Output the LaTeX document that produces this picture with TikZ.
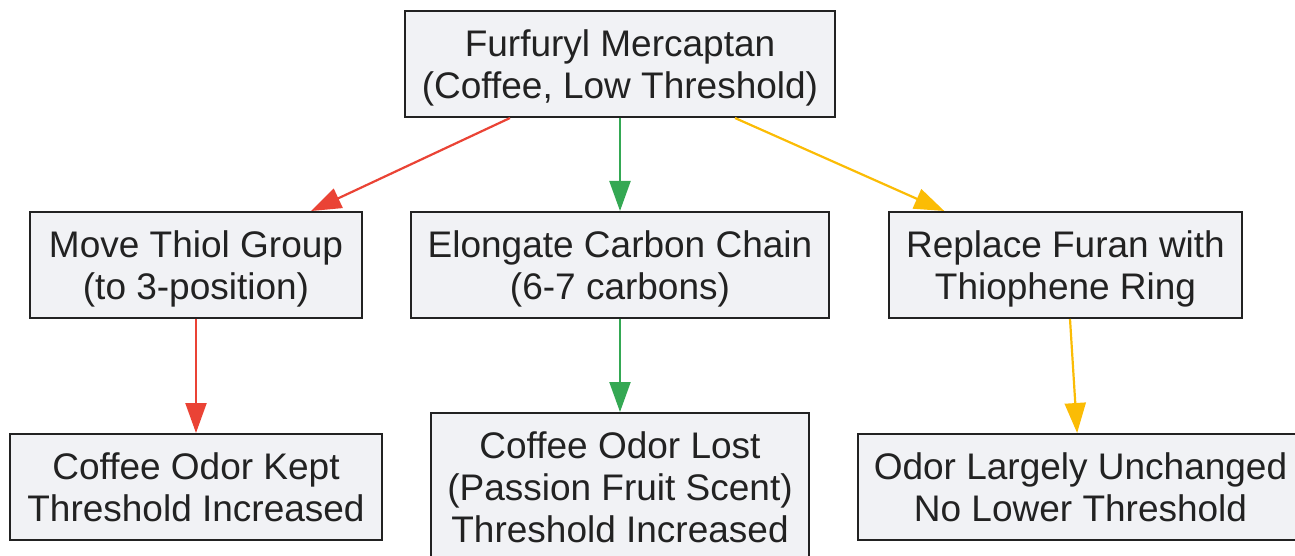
\documentclass[tikz,border=0pt]{standalone}
\usepackage{fontspec}
\setmainfont{Liberation Sans}
\usetikzlibrary{arrows.meta}

\definecolor{boxfill}{HTML}{F1F2F5}
\definecolor{boxline}{HTML}{222222}
\definecolor{redarr}{HTML}{EA4335}
\definecolor{greenarr}{HTML}{34A853}
\definecolor{yellowarr}{HTML}{FBBC05}

\tikzset{
  box/.style={draw=boxline, fill=boxfill, line width=2pt, inner sep=0pt,
    align=center, text=boxline, text depth=0pt, font=\fontsize{37}{42}\selectfont},
  link/.style={line width=2.2pt, -{Triangle[length=30pt,width=21pt]}}
}

\begin{document}
\begin{tikzpicture}[x=1pt,y=-1pt]
\useasboundingbox (0,0) rectangle (1295,556);
% nodes
\node[box, minimum width=430pt, minimum height=106pt] (furf) at (620,64) {Furfuryl Mercaptan\\(Coffee, Low Threshold)};
\node[box, minimum width=332pt, minimum height=106pt] (move) at (196,265) {Move Thiol Group\\(to 3-position)};
\node[box, minimum width=418pt, minimum height=106pt] (elong) at (620,265) {Elongate Carbon Chain\\(6-7 carbons)};
\node[box, minimum width=353pt, minimum height=106pt] (repl) at (1065.5,265) {Replace Furan with\\Thiophene Ring};
\node[box, minimum width=372pt, minimum height=106pt] (kept) at (196,487) {Coffee Odor Kept\\Threshold Increased};
\node[box, minimum width=378pt, minimum height=148pt] (lost) at (620,487) {Coffee Odor Lost\\(Passion Fruit Scent)\\Threshold Increased};
\node[box, minimum width=445pt, minimum height=106pt] (same) at (1080.5,487) {Odor Largely Unchanged\\No Lower Threshold};
% arrows
\draw[link, redarr] ([xshift=-110pt]furf.south) -- (move);
\draw[link, greenarr] (furf) -- (elong);
\draw[link, yellowarr] ([xshift=115pt]furf.south) -- (repl);
\draw[link, redarr] (move) -- (kept);
\draw[link, greenarr] (elong) -- (lost);
\draw[link, yellowarr] ([xshift=4.5pt]repl.south) -- (same);
\end{tikzpicture}
\end{document}
